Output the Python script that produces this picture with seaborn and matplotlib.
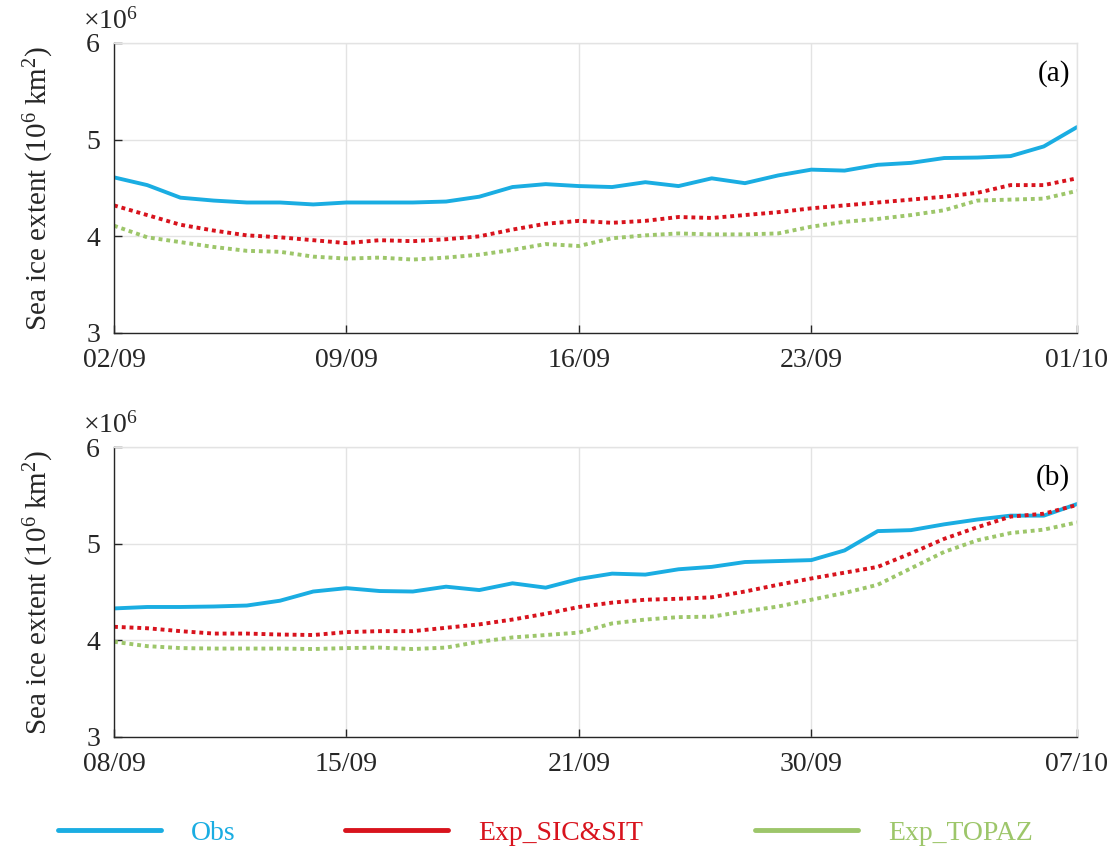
import numpy as np
import pandas as pd
import seaborn as sns
import matplotlib
matplotlib.use("Agg")
import matplotlib.pyplot as plt
from matplotlib.lines import Line2D

# ---------------- data (10^6 km^2), daily values ----------------
series_names = ["Obs", "Exp_SIC&SIT", "Exp_TOPAZ"]

a_obs = [4.61, 4.53, 4.40, 4.37, 4.35, 4.35, 4.33, 4.35, 4.35, 4.35,
         4.36, 4.41, 4.51, 4.54, 4.52, 4.51, 4.56, 4.52, 4.60, 4.55,
         4.63, 4.69, 4.68, 4.74, 4.76, 4.81, 4.815, 4.83, 4.93, 5.13]
a_sicsit = [4.32, 4.22, 4.12, 4.06, 4.01, 3.99, 3.96, 3.93, 3.96, 3.95,
            3.97, 4.00, 4.07, 4.13, 4.16, 4.14, 4.16, 4.20, 4.19, 4.22,
            4.25, 4.29, 4.32, 4.35, 4.38, 4.41, 4.45, 4.53, 4.53, 4.60]
a_topaz = [4.11, 3.99, 3.94, 3.89, 3.85, 3.84, 3.79, 3.77, 3.78, 3.76,
           3.78, 3.81, 3.86, 3.92, 3.90, 3.98, 4.01, 4.03, 4.02, 4.02,
           4.03, 4.10, 4.15, 4.18, 4.22, 4.27, 4.37, 4.38, 4.39, 4.47]

b_obs = [4.33, 4.345, 4.345, 4.35, 4.36, 4.41, 4.505, 4.54, 4.51, 4.505,
         4.555, 4.52, 4.59, 4.545, 4.635, 4.69, 4.68, 4.735, 4.76, 4.81,
         4.82, 4.83, 4.93, 5.13, 5.14, 5.20, 5.25, 5.29, 5.29, 5.41]
b_sicsit = [4.14, 4.125, 4.095, 4.07, 4.07, 4.06, 4.055, 4.085, 4.095, 4.095,
            4.13, 4.165, 4.215, 4.275, 4.345, 4.39, 4.42, 4.43, 4.445, 4.505,
            4.575, 4.64, 4.70, 4.76, 4.90, 5.05, 5.17, 5.28, 5.31, 5.40]
b_topaz = [3.985, 3.94, 3.92, 3.915, 3.915, 3.915, 3.91, 3.92, 3.925, 3.91,
           3.925, 3.985, 4.03, 4.055, 4.08, 4.175, 4.215, 4.24, 4.245, 4.30,
           4.35, 4.42, 4.49, 4.575, 4.745, 4.915, 5.035, 5.11, 5.145, 5.22]

a_tick_pos = [0, 7, 14, 21, 29]
a_tick_labels = ["02/09", "09/09", "16/09", "23/09", "01/10"]
b_tick_pos = [0, 7, 14, 21, 29]
b_tick_labels = ["08/09", "15/09", "21/09", "30/09", "07/10"]
y_ticks = [3, 4, 5, 6]
panel_labels = ["(a)", "(b)"]

# ---------------- style ----------------
sns.set_theme(style="whitegrid")
plt.rcParams["font.family"] = ["Liberation Serif", "DejaVu Serif"]
plt.rcParams["mathtext.fontset"] = "custom"
plt.rcParams["mathtext.rm"] = "Liberation Serif"
plt.rcParams["mathtext.it"] = "Liberation Serif:italic"

colors = {"Obs": "#1AADE2", "Exp_SIC&SIT": "#D8131D", "Exp_TOPAZ": "#9DC66A"}
dashes = {"Obs": "", "Exp_SIC&SIT": (1, 1), "Exp_TOPAZ": (1, 1)}
text_color = "#262626"

fig = plt.figure(figsize=(11.17, 8.56), dpi=100)
W, H = 1117, 856
def ax_rect(x0, x1, ytop, ybot):
    return [x0 / W, 1 - ybot / H, (x1 - x0) / W, (ybot - ytop) / H]

ax_a = fig.add_axes(ax_rect(114, 1077, 43, 333))
ax_b = fig.add_axes(ax_rect(114, 1077, 447, 737))

def make_df(obs, sic, top):
    n = len(obs)
    return pd.DataFrame({
        "day": list(range(n)) * 3,
        "extent": list(obs) + list(sic) + list(top),
        "series": [series_names[0]] * n + [series_names[1]] * n + [series_names[2]] * n,
    })

panels = [
    (ax_a, make_df(a_obs, a_sicsit, a_topaz), a_tick_pos, a_tick_labels, panel_labels[0]),
    (ax_b, make_df(b_obs, b_sicsit, b_topaz), b_tick_pos, b_tick_labels, panel_labels[1]),
]

for ax, df, tpos, tlab, plab in panels:
    sns.lineplot(data=df, x="day", y="extent", hue="series", style="series",
                 palette=colors, dashes=dashes, linewidth=2.8, ax=ax,
                 legend=False, sort=False)
    ax.set_xlim(0, 29)
    ax.set_ylim(3, 6)
    ax.set_xticks(tpos)
    ax.set_xticklabels(tlab)
    ax.set_yticks(y_ticks)
    ax.set_yticklabels([str(v) for v in y_ticks])
    ax.set_xlabel("")
    ax.set_ylabel("Sea ice extent (10$^{6}$ km$^{2}$)", fontsize=21, color=text_color)
    ax.yaxis.set_label_coords(-0.06, 0.5)
    ax.grid(True, color="#E3E3E3", linewidth=1.0)
    ax.set_facecolor("white")
    for side in ["top", "right"]:
        ax.spines[side].set_color("#E3E3E3")
        ax.spines[side].set_linewidth(1.0)
    for side in ["left", "bottom"]:
        ax.spines[side].set_color(text_color)
        ax.spines[side].set_linewidth(1.0)
    ax.tick_params(axis="both", direction="in", length=6, width=1.0,
                   colors=text_color, labelsize=20, labelcolor=text_color,
                   left=True, bottom=True)
    ax.tick_params(axis="x", pad=11)
    ax.tick_params(axis="y", pad=10)
    ax.text(-0.032, 1.03, r"$\times$10$^{6}$", transform=ax.transAxes,
            fontsize=20, color=text_color, ha="left", va="bottom")
    ax.text(0.993, 0.895, plab, transform=ax.transAxes, fontsize=21,
            color="black", ha="right", va="center")

# ---------------- legend (three separately placed entries) ----------------
legend_items = [
    ("Obs", 58 / W),
    ("Exp_SIC&SIT", 345 / W),
    ("Exp_TOPAZ", 755 / W),
]
for name, xf in legend_items:
    handle = Line2D([], [], color=colors[name], linewidth=3.5)
    leg = fig.legend(handles=[handle], labels=[name], loc="center left",
                     bbox_to_anchor=(xf, 1 - 833 / H), frameon=False,
                     fontsize=20, handlelength=3.7, handletextpad=1.1,
                     borderpad=0, borderaxespad=0)
    for t in leg.get_texts():
        t.set_color(colors[name])

fig.savefig("out.png", dpi=100, facecolor="white")
